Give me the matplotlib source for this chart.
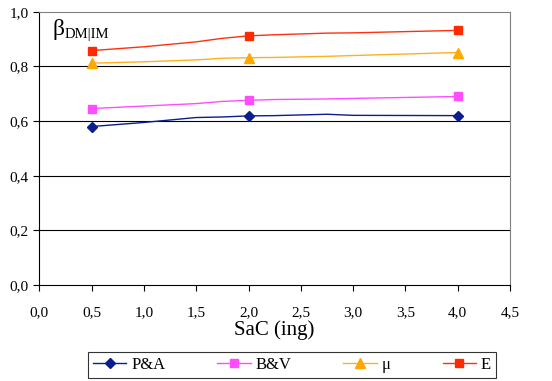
import matplotlib
matplotlib.use("Agg")
import matplotlib.pyplot as plt

plt.rcParams['font.family'] = ['Liberation Serif', 'DejaVu Serif']

x = [0.5, 1.0, 1.5, 1.75, 2.0, 2.25, 2.75, 3.0, 4.0]
pa = [0.580, 0.595, 0.613, 0.615, 0.619, 0.620, 0.625, 0.621, 0.620]
bv = [0.646, 0.655, 0.664, 0.672, 0.676, 0.679, 0.681, 0.683, 0.690]
mu = [0.812, 0.817, 0.824, 0.830, 0.832, 0.833, 0.837, 0.840, 0.851]
e = [0.858, 0.872, 0.890, 0.903, 0.912, 0.916, 0.922, 0.923, 0.932]
marker_x = [0.5, 2.0, 4.0]
series_names = ['P&A', 'B&V', 'μ', 'E']
xticks = [0.0, 0.5, 1.0, 1.5, 2.0, 2.5, 3.0, 3.5, 4.0, 4.5]
yticks = [0.0, 0.2, 0.4, 0.6, 0.8, 1.0]

fig = plt.figure(figsize=(5.52, 3.81), dpi=100)
ax = fig.add_axes([0.0712, 0.252, 0.8528, 0.717])

marks = [i for i, v in enumerate(x) if v in marker_x]
styles = [
    (pa, '#0A1E8C', '#0A1E8C', 'D', 5),
    (bv, '#FF4CFF', '#FF4CFF', 's', 5.5),
    (mu, '#FFB020', '#FFA800', '^', 6.5),
    (e, '#FF3010', '#FF2A00', 's', 5.5),
]
for (ys, lc, mc, m, ms), name in zip(styles, series_names):
    ax.plot(x, ys, color=lc, lw=1.0, marker=m, markersize=ms,
            markerfacecolor=mc, markeredgecolor=mc, markevery=marks, label=name)

ax.set_xlim(0, 4.5)
ax.set_ylim(0, 1.0)
ax.set_xticks(xticks)
ax.set_yticks(yticks)
ax.set_xticklabels([f"{t:.1f}".replace('.', ',') for t in xticks], fontsize=11)
ax.set_yticklabels([f"{t:.1f}".replace('.', ',') for t in yticks], fontsize=11)
ax.tick_params(direction='out', length=4, width=0.8, color='black')
ax.tick_params(axis='x', pad=11)
for yv in yticks[1:-1]:
    ax.axhline(yv, color='black', lw=0.8, zorder=0)
ax.spines['left'].set_color('black')
ax.spines['bottom'].set_color('black')
ax.spines['top'].set_color('#808080')
ax.spines['right'].set_color('#808080')
ax.set_xlabel('SaC (ing)', fontsize=15, labelpad=1)

fig.text(52 / 552, 1 - 35 / 381, 'β', fontsize=17, ha='left', va='baseline')
fig.text(65 / 552, 1 - 38 / 381, 'DM|IM', fontsize=10.5, ha='left', va='baseline')

leg = fig.legend(loc='lower left', bbox_to_anchor=(88 / 552, 3 / 381, 408 / 552, 29 / 381),
                 mode='expand', borderaxespad=0, ncol=4,
                 frameon=True, fancybox=False, edgecolor='black', fontsize=12,
                 handlelength=2.0, columnspacing=1.0, handletextpad=0.3,
                 borderpad=0.3)
leg.get_frame().set_linewidth(0.8)

fig.savefig('out.png', dpi=100)
